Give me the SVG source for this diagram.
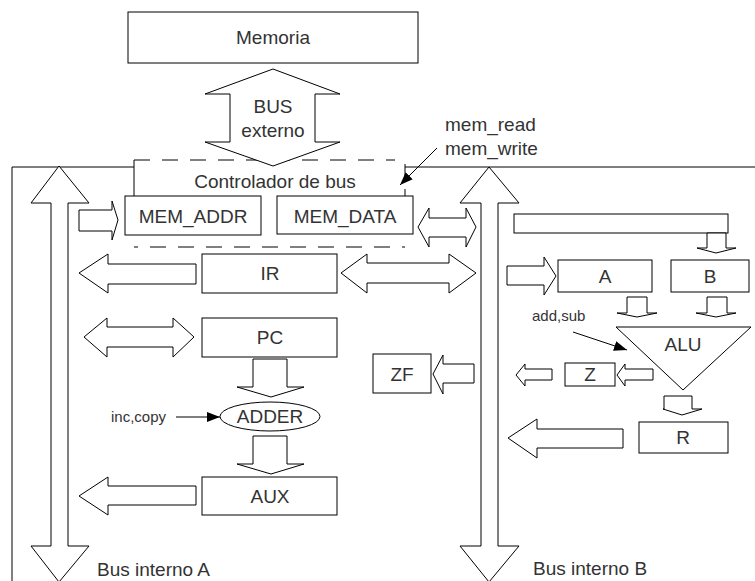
<svg xmlns="http://www.w3.org/2000/svg" width="755" height="581" viewBox="0 0 755 581">
<style>
.b{fill:#fff;stroke:#000;stroke-width:1}
.l{fill:none;stroke:#000;stroke-width:1}
.d{fill:none;stroke:#000;stroke-width:1;stroke-dasharray:16 12}
.t{font-family:"Liberation Sans",Arial,Helvetica,sans-serif;font-size:19px;fill:#333;text-anchor:middle}
.s{font-size:15px;text-anchor:start}
.st{text-anchor:start}
</style>
<defs>
<marker id="ah" markerUnits="userSpaceOnUse" markerWidth="14" markerHeight="10" refX="13" refY="5" orient="auto">
<path d="M0,0 L13,5 L0,10 z" fill="#000"/>
</marker>
</defs>
<rect width="755" height="581" fill="#fff"/>

<g id="frame">
<path class="l" d="M12,581 V167 H134 M405,167 H755"/>
</g>

<g id="controlador">
<path class="d" d="M134,160 H395"/>
<path class="l" d="M134,160 V196"/>
<path class="l" d="M405,164 V177 M405,189 V196"/>
<path class="d" d="M134,247 H405" stroke-dashoffset="12"/>
<text class="t" x="275" y="188">Controlador de bus</text>
</g>

<g id="memoria">
<rect class="b" x="128" y="12" width="290" height="51"/>
<text class="t" x="273" y="44">Memoria</text>
</g>

<g id="bus-externo">
<polygon class="b" points="273,69 340,94 315,94 315,142 340,142 273,166 205,142 230,142 230,94 205,94"/>
<text class="t" x="273" y="113">BUS</text>
<text class="t" x="273" y="137">externo</text>
</g>

<g id="bus-interno-a">
<polygon class="b" points="59,166 89,203 68,203 68,546 89,546 59,582 31,546 51,546 51,203 31,203"/>
<text class="t st" x="97" y="576">Bus interno A</text>
</g>

<g id="bus-interno-b">
<polygon class="b" points="489,167 519,203 498,203 498,546 519,546 489,582 460,546 481,546 481,203 460,203"/>
<text class="t st" x="533" y="575">Bus interno B</text>
</g>

<g id="mem-addr">
<rect class="b" x="125" y="196" width="136" height="39"/>
<text class="t" x="193" y="223">MEM_ADDR</text>
</g>
<g id="mem-data">
<rect class="b" x="277" y="196" width="136" height="38"/>
<text class="t" x="345" y="223">MEM_DATA</text>
</g>
<g id="ir">
<rect class="b" x="202" y="254" width="135" height="39"/>
<text class="t" x="270" y="280">IR</text>
</g>
<g id="pc">
<rect class="b" x="202" y="318" width="135" height="39"/>
<text class="t" x="270" y="344">PC</text>
</g>
<g id="adder">
<ellipse class="b" cx="270" cy="416.5" rx="50" ry="14.5"/>
<text class="t" x="270" y="423">ADDER</text>
</g>
<g id="aux">
<rect class="b" x="202" y="477" width="135" height="38"/>
<text class="t" x="270" y="503">AUX</text>
</g>
<g id="zf">
<rect class="b" x="373" y="354" width="58" height="39"/>
<text class="t" x="402" y="381">ZF</text>
</g>
<g id="bar">
<rect class="b" x="514" y="214" width="214" height="19"/>
</g>
<g id="a">
<rect class="b" x="558" y="260" width="94" height="32"/>
<text class="t" x="605" y="283">A</text>
</g>
<g id="b">
<rect class="b" x="671" y="260" width="78" height="32"/>
<text class="t" x="710" y="283">B</text>
</g>
<g id="alu">
<polygon class="b" points="616,327 751,327 683,390"/>
<text class="t" x="683" y="351">ALU</text>
</g>
<g id="z">
<rect class="b" x="565" y="363" width="50" height="23"/>
<text class="t" x="590" y="381">Z</text>
</g>
<g id="r">
<rect class="b" x="639" y="422" width="89" height="31"/>
<text class="t" x="683" y="444">R</text>
</g>

<g id="labels">
<text class="t s" x="111" y="422">inc,copy</text>
<text class="t s" x="532" y="321">add,sub</text>
<text class="t st" x="445" y="131">mem_read</text>
<text class="t st" x="445" y="155">mem_write</text>
</g>

<g id="connectors">
<polygon class="b" points="79,210 112,210 112,201 118,220 112,240 112,231 79,231"/>
<polygon class="b" points="418,227 429,208 429,218 466,218 466,208 476,227 466,247 466,237 429,237 429,247"/>
<polygon class="b" points="79,273 108,254 108,264 196,264 196,284 108,284 108,293"/>
<polygon class="b" points="341,273 367,254 367,263 449,263 449,254 476,273 449,293 449,283 367,283 367,293"/>
<polygon class="b" points="84,337 107,318 107,327 173,327 173,318 194,337 173,357 173,347 107,347 107,357"/>
<polygon class="b" points="253,359 287,359 287,387 304,387 271,397 237,387 253,387"/>
<polygon class="b" points="253,436 287,436 287,464 304,464 271,474 237,464 253,464"/>
<polygon class="b" points="79,496 108,477 108,486 196,486 196,505 108,505 108,515"/>
<polygon class="b" points="474,364 474,383 443,383 443,394 433,374 443,355 443,364"/>
<polygon class="b" points="707,233 707,248 697,248 716,253 736,248 726,248 726,233"/>
<polygon class="b" points="507,266 544,266 544,257 556,276 544,295 544,285 507,285"/>
<polygon class="b" points="627,297 647,297 647,313 657,313 637,317 617,313 627,313"/>
<polygon class="b" points="707,297 727,297 727,313 736,313 716,317 696,313 707,313"/>
<polygon class="b" points="653,369 653,380 625,380 625,386 617,375 625,364 625,369"/>
<polygon class="b" points="552,369 552,380 525,380 525,386 516,375 525,364 525,369"/>
<polygon class="b" points="664,396 692,396 692,409 702,409 682,415 663,409 664,409"/>
<polygon class="b" points="623,429 623,448 537,448 537,458 508,438 537,419 537,429"/>
<line class="l" x1="176" y1="417" x2="220" y2="417" marker-end="url(#ah)"/>
<line class="l" x1="573" y1="332" x2="627" y2="350" marker-end="url(#ah)"/>
<line class="l" x1="437" y1="148" x2="400" y2="185" marker-end="url(#ah)"/>
</g>
</svg>
